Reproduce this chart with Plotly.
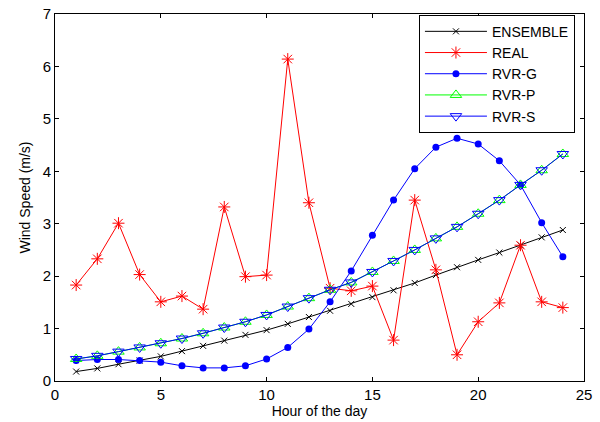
import plotly.graph_objects as go

hours = list(range(1, 25))
ensemble = [0.18, 0.24, 0.32, 0.39, 0.47, 0.57, 0.67, 0.77, 0.88, 0.97, 1.09, 1.22,
            1.34, 1.47, 1.60, 1.73, 1.87, 2.02, 2.17, 2.31, 2.45, 2.59, 2.74, 2.88]
real = [1.83, 2.33, 3.01, 2.03, 1.51, 1.62, 1.37, 3.32, 1.99, 2.02, 6.14, 3.40,
        1.77, 1.72, 1.81, 0.78, 3.45, 2.12, 0.50, 1.13, 1.49, 2.59, 1.51, 1.40]
rvr_g = [0.39, 0.41, 0.41, 0.39, 0.36, 0.29, 0.25, 0.25, 0.29, 0.42, 0.64, 0.99,
         1.51, 2.10, 2.78, 3.45, 4.05, 4.46, 4.63, 4.52, 4.20, 3.74, 3.02, 2.37]
rvr_p = [0.42, 0.48, 0.56, 0.64, 0.72, 0.81, 0.91, 1.02, 1.13, 1.26, 1.42, 1.58,
         1.74, 1.88, 2.08, 2.29, 2.50, 2.72, 2.94, 3.19, 3.45, 3.74, 4.02, 4.33]
rvr_s = [0.42, 0.48, 0.56, 0.64, 0.72, 0.81, 0.91, 1.02, 1.13, 1.26, 1.42, 1.58,
         1.74, 1.88, 2.08, 2.29, 2.50, 2.72, 2.94, 3.19, 3.45, 3.74, 4.02, 4.33]

fig = go.Figure()
fig.add_trace(go.Scatter(x=hours, y=ensemble, name="ENSEMBLE", mode="lines+markers",
                         line=dict(color="black", width=1),
                         marker=dict(symbol="x-thin-open", size=6, color="black",
                                     line=dict(color="black", width=1))))
fig.add_trace(go.Scatter(x=hours, y=real, name="REAL", mode="lines+markers",
                         line=dict(color="red", width=1),
                         marker=dict(symbol="asterisk-open", size=10, color="red",
                                     line=dict(color="red", width=1))))
fig.add_trace(go.Scatter(x=hours, y=rvr_g, name="RVR-G", mode="lines+markers",
                         line=dict(color="blue", width=1),
                         marker=dict(symbol="circle", size=7, color="blue")))
fig.add_trace(go.Scatter(x=hours, y=rvr_p, name="RVR-P", mode="lines+markers",
                         line=dict(color="#00ff00", width=1),
                         marker=dict(symbol="triangle-up-open", size=10, color="#00ff00",
                                     line=dict(color="#00ff00", width=1))))
fig.add_trace(go.Scatter(x=hours, y=rvr_s, name="RVR-S", mode="lines+markers",
                         line=dict(color="blue", width=1),
                         marker=dict(symbol="triangle-down-open", size=10, color="blue",
                                     line=dict(color="blue", width=1))))

axis_common = dict(showgrid=False, zeroline=False, showline=True, linecolor="black",
                   linewidth=1, mirror="allticks", ticks="inside", ticklen=4,
                   tickcolor="black", tickfont=dict(size=15, color="black"),
                   automargin=False)

fig.update_layout(
    width=600, height=422,
    margin=dict(l=55, r=16, t=14, b=41),
    paper_bgcolor="white", plot_bgcolor="white",
    font=dict(family="Liberation Sans, Arial, sans-serif", color="black"),
    xaxis=dict(range=[0, 25], dtick=5, tick0=0,
               title=dict(text="Hour of the day", font=dict(size=14), standoff=2),
               **axis_common),
    yaxis=dict(range=[0, 7], dtick=1, tick0=0,
               title=dict(text="Wind Speed (m/s)", font=dict(size=14), standoff=8),
               **axis_common),
    legend=dict(x=0.688, y=0.998, xanchor="left", yanchor="top",
                bordercolor="black", borderwidth=1, bgcolor="white",
                font=dict(size=14), tracegroupgap=0, itemwidth=62),
    showlegend=True,
)

fig.write_html("out.html", config={"displayModeBar": False},
               post_script="document.body.style.margin='0';document.body.style.padding='0';")
